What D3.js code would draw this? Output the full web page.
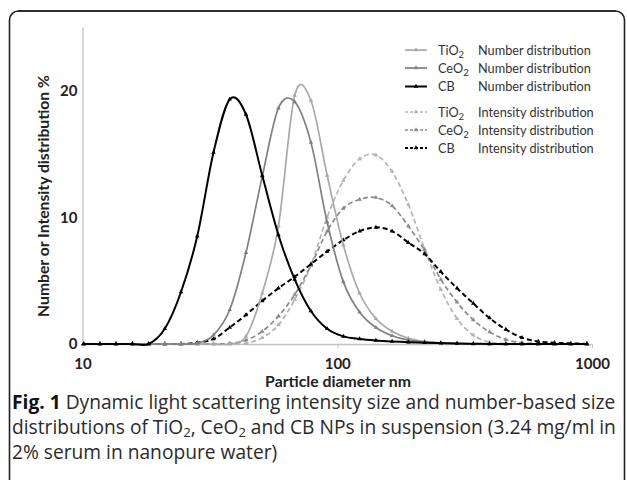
<!DOCTYPE html>
<html>
<head>
<meta charset="utf-8">
<style>
  html, body { margin: 0; padding: 0; background: #fff; overflow: hidden; }
  svg { display: block; }
  .plot text { font-family: Lato, "Open Sans", sans-serif; }
  .caption text { font-family: "Open Sans", sans-serif; }
</style>
</head>
<body>
<div id="chart"></div>
<script src="https://cdn.jsdelivr.net/npm/d3@7/dist/d3.min.js"></script>
<script>
// DLS size bins (nm)
var sizes = [10.1, 11.7, 13.54, 15.69, 18.17, 21.04, 24.36, 28.21, 32.67, 37.84, 43.82, 50.75, 58.77, 68.06, 78.82, 91.28,
             105.7, 122.4, 141.8, 164.2, 190.1, 220.2, 255.0, 295.3, 342.0, 396.1, 458.7, 531.2, 615.1, 712.4, 825.0, 955.4];

// number distributions (%)
var tio2Number = [0, 0, 0, 0, 0, 0, 0, 0, 0, 0, 0.6, 4.0, 9.3, 19.6, 19.2, 13.3, 7.8, 4.0, 2.0, 1.0, 0.45, 0.2, 0.1, 0.04, 0, 0, 0, 0, 0, 0, 0, 0];
var ceo2Number = [0, 0, 0, 0, 0, 0, 0, 0.05, 0.7, 2.7, 7.2, 13.2, 18.6, 19.1, 15.9, 9.6, 4.9, 2.5, 1.3, 0.65, 0.3, 0.15, 0.07, 0.03, 0, 0, 0, 0, 0, 0, 0, 0];
var cbNumber   = [0, 0, 0, 0, 0, 1.2, 4.1, 8.5, 15.1, 19.3, 18.1, 13.3, 8.6, 5.1, 2.6, 1.2, 0.6, 0.4, 0.28, 0.2, 0.14, 0.1, 0.07, 0.04, 0.02, 0, 0, 0, 0, 0, 0, 0];

// intensity distributions (%)
var tio2Intensity = [0, 0, 0, 0, 0, 0, 0, 0, 0, 0, 0.05, 0.5, 1.5, 3.5, 6.2, 10.0, 12.9, 14.6, 14.9, 13.6, 11.0, 7.5, 4.3, 2.0, 0.7, 0.15, 0.03, 0, 0, 0, 0, 0];
var ceo2Intensity = [0, 0, 0, 0, 0, 0, 0, 0, 0, 0.05, 0.3, 1.0, 2.2, 3.9, 6.2, 8.9, 10.7, 11.4, 11.55, 10.9, 9.3, 7.4, 5.1, 3.3, 1.9, 0.95, 0.35, 0.1, 0.03, 0, 0, 0];
var cbIntensity   = [0, 0, 0, 0, 0, 0, 0, 0.1, 0.4, 1.3, 2.3, 3.4, 4.4, 5.3, 6.3, 7.3, 8.2, 8.9, 9.2, 8.9, 8.0, 7.1, 5.7, 4.4, 3.2, 2.05, 1.15, 0.5, 0.2, 0.1, 0.05, 0];

var yTicks = [0, 10, 20];
var xTicks = [10, 100, 1000];

var series = [
  {mat: "TiO", sub: "2", kind: "Number distribution",    values: tio2Number,    color: "#a9a9a9", dash: null, w: 1.7},
  {mat: "CeO", sub: "2", kind: "Number distribution",    values: ceo2Number,    color: "#808080", dash: null, w: 1.7},
  {mat: "CB",  sub: "",  kind: "Number distribution",    values: cbNumber,      color: "#000000", dash: null, w: 2},
  {mat: "TiO", sub: "2", kind: "Intensity distribution", values: tio2Intensity, color: "#b4b4b4", dash: "5,3", w: 1.7},
  {mat: "CeO", sub: "2", kind: "Intensity distribution", values: ceo2Intensity, color: "#8a8a8a", dash: "5,3", w: 1.7},
  {mat: "CB",  sub: "",  kind: "Intensity distribution", values: cbIntensity,   color: "#000000", dash: "5,3", w: 2}
];

var W = 627, H = 480;
var svg = d3.select("#chart").append("svg").attr("width", W).attr("height", H);

// scale a text's font so it spans the wanted width
function fit(sel, target, base) {
  var w = sel.node().getComputedTextLength();
  var fs = base * target / w;
  sel.style("font-size", fs + "px");
  return fs;
}

// rounded frame (bottom edge lies below the picture)
svg.append("rect")
  .attr("x", 9.5).attr("y", 11)
  .attr("width", 615).attr("height", 520)
  .attr("rx", 9).attr("ry", 9)
  .attr("fill", "none").attr("stroke", "#222").attr("stroke-width", 1.6);
svg.append("line")
  .attr("x1", 18).attr("x2", 616).attr("y1", 11).attr("y2", 11)
  .attr("stroke", "#222").attr("stroke-width", 1.6);

var plot = svg.append("g").attr("class", "plot");

var x = d3.scaleLog().domain([10, 1000]).range([82.5, 592]);
var y = d3.scaleLinear().domain([0, 25]).range([344, 27]);

// axes
var xAxis = d3.axisBottom(x).tickValues(xTicks).tickFormat(d3.format("d")).tickSizeInner(4).tickSizeOuter(0).tickPadding(10);
var gx = plot.append("g").attr("transform", "translate(0,344)").call(xAxis);
gx.select(".domain").style("stroke", "#c4c4c4").style("stroke-width", 1.3);
gx.selectAll(".tick line").style("stroke", "#c4c4c4");
gx.selectAll("text").style("font-size", "15px").style("font-weight", "bold").style("fill", "#222");

var yAxis = d3.axisLeft(y).tickValues(yTicks).tickSize(0).tickPadding(5);
var gy = plot.append("g").attr("transform", "translate(82.5,0)").call(yAxis);
gy.select(".domain").style("stroke", "#c4c4c4").style("stroke-width", 1.3);
gy.selectAll("text").style("font-size", "15px").style("font-weight", "bold").style("fill", "#222");

var xTitle = plot.append("text")
  .attr("x", 338).attr("y", 387)
  .attr("text-anchor", "middle")
  .style("font-size", "14px").style("font-weight", "bold").style("fill", "#222")
  .text("Particle diameter nm");
fit(xTitle, 146, 14);

var yTitle = plot.append("text")
  .attr("transform", "translate(49,196) rotate(-90)")
  .attr("text-anchor", "middle")
  .style("font-size", "14px").style("font-weight", "bold").style("fill", "#222")
  .text("Number or Intensity distribution %");
fit(yTitle, 242, 14);

// curves
var line = d3.line()
  .x(function(d, i) { return x(sizes[i]); })
  .y(function(d) { return y(d); })
  .curve(d3.curveCatmullRom.alpha(0));

var tri = d3.symbol().type(d3.symbolTriangle).size(9);

// intensity first, number on top
var order = [3, 4, 5, 0, 1, 2];
order.forEach(function(k) {
  var s = series[k];
  plot.append("path").datum(s.values)
    .attr("d", line)
    .style("fill", "none")
    .style("stroke", s.color)
    .style("stroke-width", s.w)
    .style("stroke-dasharray", s.dash);
  plot.append("g").selectAll("path")
    .data(s.values)
    .enter().append("path")
    .attr("d", tri)
    .attr("transform", function(d, i) { return "translate(" + x(sizes[i]) + "," + y(d) + ")"; })
    .style("fill", s.color);
});

// legend
var legendY = [50, 68, 86.5, 112, 130, 148];
var legend = plot.append("g");
var legendFs = 13;
series.forEach(function(s, i) {
  var g = legend.append("g").attr("transform", "translate(0," + legendY[i] + ")");
  g.append("line").attr("x1", 405).attr("x2", 427).attr("y1", 0).attr("y2", 0)
    .style("stroke", s.color).style("stroke-width", s.w).style("stroke-dasharray", s.dash ? "3,2" : null);
  g.append("path").attr("d", tri).attr("transform", "translate(416,0)").style("fill", s.color);
  var k = g.append("text").attr("x", 478).attr("y", 4.5).style("font-size", "13px").style("fill", "#333").text(s.kind);
  if (i === 0) legendFs = fit(k, 113, 13);
  else k.style("font-size", legendFs + "px");
  var t = g.append("text").attr("x", 438).attr("y", 4.5).style("font-size", legendFs + "px").style("fill", "#333");
  t.append("tspan").text(s.mat);
  if (s.sub) t.append("tspan").attr("dy", 3).style("font-size", (legendFs * 0.75) + "px").text(s.sub);
});

// caption
var cap = svg.append("g").attr("class", "caption").style("fill", "#2a2a2a");
var l1 = cap.append("text").attr("x", 12).attr("y", 409).style("font-size", "17px");
l1.append("tspan").style("font-weight", "bold").style("fill", "#111").text("Fig. 1");
l1.append("tspan").text(" Dynamic light scattering intensity size and number-based size");
var l2 = cap.append("text").attr("x", 12).attr("y", 434).style("font-size", "17px");
l2.append("tspan").text("distributions of TiO");
l2.append("tspan").attr("baseline-shift", "-25%").attr("class", "sub").text("2");
l2.append("tspan").text(", CeO");
l2.append("tspan").attr("baseline-shift", "-25%").attr("class", "sub").text("2");
l2.append("tspan").text(" and CB NPs in suspension (3.24 mg/ml in");
var l3 = cap.append("text").attr("x", 12).attr("y", 459).style("font-size", "17px");
l3.append("tspan").text("2% serum in nanopure water)");

// fit caption width to the frame
var fs = fit(l1, 604, 17);
cap.selectAll("text").style("font-size", fs + "px");
cap.selectAll(".sub").style("font-size", (fs * 0.68) + "px");
</script>
</body>
</html>
